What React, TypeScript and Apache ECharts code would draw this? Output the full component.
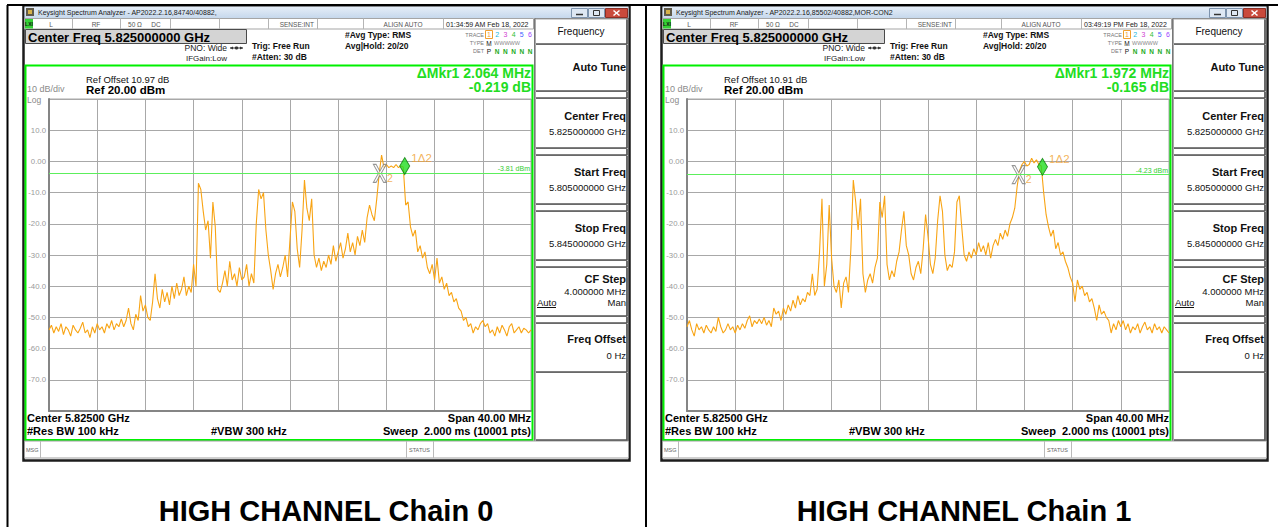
import React, { useEffect, useRef } from "react";
import * as echarts from "echarts";

// ---------- data ----------
const panelTitles = ["HIGH CHANNEL Chain 0", "HIGH CHANNEL Chain 1"];
const windowTitles = [
  "Keysight Spectrum Analyzer - AP2022.2.16,84740/40882,",
  "Keysight Spectrum Analyzer - AP2022.2.16,85502/40882,MOR-CON2",
];
const timestamps = ["01:34:59 AM Feb 18, 2022", "03:49:19 PM Feb 18, 2022"];
const refOffsets = ["Ref Offset 10.97 dB", "Ref Offset 10.91 dB"];
const deltaFreqs = ["ΔMkr1 2.064 MHz", "ΔMkr1 1.972 MHz"];
const deltaLevels = ["-0.219 dB", "-0.165 dB"];
const displayLines = [-3.81, -4.23];
const displayLineLabels = ["-3.81 dBm", "-4.23 dBm"];

// x = offset from centre frequency 5.825 GHz, in MHz (span 40 MHz)
const freqStart = -20;
const freqStep = 0.2;
const yTickLabels = ["10.0", "0.00", "-10.0", "-20.0", "-30.0", "-40.0", "-50.0", "-60.0", "-70.0"];

// marker [freq offset MHz, level dB]
const chain0Marker1 = [9.52, -1.5];
const chain0Marker2 = [7.456, -3.81];
const chain1Marker1 = [9.5, -1.75];
const chain1Marker2 = [7.528, -4.23];

const chain0Trace = [
  -54, -52.5, -55, -53, -54.5, -52, -55.5, -53, -54, -56,
  -52.5, -54, -55, -53.5, -51.5, -55, -54, -56.5, -53, -55,
  -52, -54, -53, -55, -52, -53.5, -51, -54, -52, -53,
  -50.5, -53, -51, -47, -52, -54, -49, -51, -43, -48,
  -46, -50, -51, -45, -36, -44, -47, -41, -45, -42,
  -46, -40, -44, -39, -43, -41, -37, -43, -40, -42,
  -33, -40, -7, -9, -16, -22, -19, -31, -13, -21,
  -41, -42, -39, -35, -40, -32, -38, -36, -40, -34,
  -38, -37, -33, -40, -36, -39, -20, -9, -12, -10,
  -22, -30, -35, -41, -36, -33, -37, -34, -30, -37,
  -25, -13, -16, -28, -34, -22, -6, -15, -19, -12,
  -30, -34, -31, -35, -32, -34, -30, -33, -27, -32,
  -29, -26, -31, -28, -23, -29, -26, -30, -24, -27,
  -22, -26, -18, -14, -17, -19, -12, -4, 2, -2,
  -1, -2, -1.5, -2, -1, -2, -1.5, -1.8, -14, -13,
  -21, -24, -22, -29, -27, -31, -29, -34, -36, -33,
  -38, -31, -39, -37, -41, -39, -43, -42, -45, -44,
  -47, -48, -51, -50, -53, -52, -55, -53, -54, -52,
  -51, -53, -52, -55, -54, -56, -53, -55, -52.5, -54,
  -56, -53, -52, -55, -54, -53, -55, -53.5, -54, -55,
  -54,
];

const chain1Trace = [
  -53, -51, -54, -56, -52, -54, -53, -55, -52.5, -54,
  -55, -53, -54.5, -50, -53, -55, -54, -52, -54, -53,
  -55, -52.5, -54, -52, -53.5, -51, -49.5, -53, -51, -52,
  -50.5, -52, -50, -52.5, -51, -53, -47, -49, -48, -51,
  -47, -49, -46, -48, -44.5, -47, -43, -46, -44, -45,
  -42, -43, -36, -43, -41, -29, -12, -40, -33, -14,
  -31, -40, -42, -38, -47, -39, -37, -42, -28, -6,
  -13, -22, -12, -36, -42, -38, -36, -39, -34, -31,
  -13, -18, -11, -33, -38, -35, -37, -32, -29, -22,
  -16, -27, -30, -36, -38, -34, -32, -36, -28, -17,
  -24, -33, -36, -31, -19, -11, -16, -30, -35, -33,
  -34, -29, -13, -11, -21, -30, -32, -29, -31, -28,
  -30, -26, -29, -27, -30, -26, -31, -27, -25, -27,
  -23, -25, -22, -24, -20, -18, -15, -8, -3, -1,
  0, -1.5, -1, 1, -0.5, 0.5, -1, -1.5, -10, -17,
  -21, -24, -22, -28, -26, -30, -29, -32, -34, -37,
  -39, -45, -38, -41, -40, -43, -42, -45, -44, -47,
  -51, -46, -49, -48, -50, -51, -55, -52, -54, -51,
  -53, -51, -54, -52, -55, -53, -54, -52, -55, -53,
  -51.5, -54, -53, -55, -52, -54, -53, -55, -53, -54,
  -55,
];

const traces = [chain0Trace, chain1Trace];
const markers1 = [chain0Marker1, chain1Marker1];
const markers2 = [chain0Marker2, chain1Marker2];

// ---------- drawing helpers ----------
const FONT = '"Liberation Sans", Arial, Helvetica, sans-serif';
const PANEL_DX = 638;

function txt(x: number, y: number, text: string, size: number, fill = "#000", bold = false, align = "left") {
  return {
    type: "text",
    x,
    y,
    silent: true,
    z: 20,
    style: { text, fontSize: size, fontFamily: FONT, fontWeight: bold ? "bold" : "normal", fill, align, verticalAlign: "middle" },
  };
}
function rect(x: number, y: number, w: number, h: number, fill: any, stroke?: string, lw = 1) {
  return { type: "rect", silent: true, z: 5, shape: { x, y, width: w, height: h }, style: { fill, stroke: stroke || null, lineWidth: lw } };
}
function ln(x1: number, y1: number, x2: number, y2: number, stroke: string, lw = 1) {
  return { type: "line", silent: true, z: 6, shape: { x1, y1, x2, y2 }, style: { stroke, lineWidth: lw } };
}

function panelChrome(k: number) {
  const o = k * PANEL_DX;
  const e: any[] = [];
  // screenshot frame
  e.push(rect(o + 23.5, 6, 606, 454.5, "none", "#1c1c1c", 2.5));
  // title bar
  e.push(
    rect(o + 24.5, 6.5, 604, 11.5, {
      type: "linear", x: 0, y: 0, x2: 0, y2: 1,
      colorStops: [{ offset: 0, color: "#e6eef8" }, { offset: 1, color: "#c6d8ec" }],
    })
  );
  e.push(rect(o + 26, 8, 8, 8, "#5f5a4a"), rect(o + 28, 10, 4, 4, "#d6b24a"));
  e.push(txt(o + 38, 12.5, windowTitles[k], 7, "#1a1a1a"));
  e.push(rect(o + 571.5, 8.5, 16, 9, "#dde7f3", "#7d93ad"), rect(o + 588.5, 8.5, 16, 9, "#dde7f3", "#7d93ad"), rect(o + 605.5, 8.5, 22, 9, "#c94a3c", "#8a2e25"));
  e.push(ln(o + 576, 14.5, o + 583, 14.5, "#333", 1.5));
  e.push(rect(o + 593.5, 10.5, 6, 5, "none", "#333"));
  e.push(ln(o + 613.5, 10.5, o + 619.5, 15.5, "#fff", 1.5), ln(o + 619.5, 10.5, o + 613.5, 15.5, "#fff", 1.5));
  // status row
  e.push(rect(o + 24.5, 18.5, 509, 10.5, "#fff", "#a5a5a5"));
  e.push(rect(o + 25, 19, 8, 9.5, "#35d035"), txt(o + 29, 24, "LXI", 5, "#111", true, "center"));
  [72, 120, 170, 219, 268, 317, 363, 443].forEach((x) => e.push(ln(o + x + 0.5, 18.5, o + x + 0.5, 29, "#b5b5b5")));
  e.push(
    txt(o + 51, 24, "L", 6.5, "#555", false, "center"),
    txt(o + 96, 24, "RF", 6.5, "#555", false, "center"),
    txt(o + 135, 24, "50 Ω", 6.5, "#555", false, "center"),
    txt(o + 156, 24, "DC", 6.5, "#555", false, "center"),
    txt(o + 314, 24, "SENSE:INT", 6.5, "#555", false, "right"),
    txt(o + 403, 24, "ALIGN AUTO", 6.5, "#555", false, "center"),
    txt(o + 446, 24, timestamps[k], 7, "#222")
  );
  // centre freq box & settings
  e.push(rect(o + 25.5, 29.5, 221, 14, "#d4d4d4", "#4a4a4a"));
  e.push(txt(o + 28, 37, "Center Freq 5.825000000 GHz", 13, "#000", true));
  e.push(txt(o + 227, 48, "PNO: Wide", 8.5, "#222", false, "right"));
  e.push(ln(o + 230, 48, o + 243, 48, "#333", 1));
  e.push({ type: "circle", silent: true, z: 6, shape: { cx: o + 236.5, cy: 48, r: 1.6 }, style: { fill: "#333" } });
  e.push({ type: "polygon", silent: true, z: 6, shape: { points: [[o + 230, 48], [o + 233, 46.5], [o + 233, 49.5]] }, style: { fill: "#333" } });
  e.push({ type: "polygon", silent: true, z: 6, shape: { points: [[o + 243, 48], [o + 240, 46.5], [o + 240, 49.5]] }, style: { fill: "#333" } });
  e.push(txt(o + 186, 58, "IFGain:Low", 8, "#222"));
  e.push(txt(o + 252, 46, "Trig: Free Run", 8.5, "#111", true), txt(o + 252, 57, "#Atten: 30 dB", 8.5, "#111", true));
  e.push(txt(o + 345, 35, "#Avg Type: RMS", 8.5, "#111", true), txt(o + 345, 46, "Avg|Hold: 20/20", 8.5, "#111", true));
  // trace block
  e.push(txt(o + 484, 34.5, "TRACE", 5.5, "#777", false, "right"), txt(o + 484, 43, "TYPE", 5.5, "#777", false, "right"), txt(o + 484, 51, "DET", 5.5, "#777", false, "right"));
  e.push(rect(o + 485.5, 30.5, 7, 8, "none", "#f0a030"));
  const tcols = ["#f0a030", "#20b8e0", "#d040d0", "#30c030", "#4060ff", "#a040ff"];
  tcols.forEach((c, i) => e.push(txt(o + 489 + i * 8.2, 34.5, String(i + 1), 7, c, false, "center")));
  e.push(txt(o + 489, 43, "M", 6.5, "#111", false, "center"), txt(o + 494, 43, "WWWWW", 5.5, "#888"));
  e.push(txt(o + 489, 51, "P", 6.5, "#111", false, "center"));
  [1, 2, 3, 4, 5].forEach((i) => e.push(txt(o + 489 + i * 8.2, 51, "N", 6.5, "#22aa22", true, "center")));
  // green measurement frame
  e.push(rect(o + 25.5, 65.5, 507, 374.5, "none", "#00f000", 2));
  e.push(txt(o + 86, 79, refOffsets[k], 9.5, "#111"));
  e.push(txt(o + 86, 90, "Ref 20.00 dBm", 11.5, "#000", true));
  e.push(txt(o + 27, 89, "10 dB/div", 9, "#8a8a8a"), txt(o + 27, 99.5, "Log", 8.5, "#8a8a8a"));
  e.push(txt(o + 531, 73, deltaFreqs[k], 14, "#22dd22", true, "right"), txt(o + 531, 87, deltaLevels[k], 14, "#22dd22", true, "right"));
  e.push(txt(o + 27, 418, "Center 5.82500 GHz", 11, "#000", true), txt(o + 531, 418, "Span 40.00 MHz", 11, "#000", true, "right"));
  e.push(txt(o + 27, 431, "#Res BW 100 kHz", 11, "#000", true), txt(o + 211, 431, "#VBW 300 kHz", 11, "#000", true));
  e.push(txt(o + 531, 431, "Sweep  2.000 ms (10001 pts)", 11, "#000", true, "right"));
  // message row
  e.push(rect(o + 24.5, 441, 604, 17, "#fff", "#a0a0a0"));
  e.push(txt(o + 26, 449.5, "MSG", 5.5, "#666"), ln(o + 40.5, 441, o + 40.5, 458, "#bbb"));
  e.push(ln(o + 406.5, 441, o + 406.5, 458, "#bbb"), txt(o + 409, 449.5, "STATUS", 5.5, "#666"), ln(o + 433.5, 441, o + 433.5, 458, "#bbb"));
  // soft-key menu
  e.push(rect(o + 534.5, 18.5, 93.5, 422, "#fff", "#777"));
  const boxes = [[18.5, 44], [44, 91], [91, 98], [98, 148], [148, 155], [155, 204], [204, 211], [211, 260], [260, 267], [267, 316], [316, 323], [323, 372], [372, 440]];
  boxes.forEach(([a, b]) => {
    e.push(rect(o + 535.5, a + 0.5, 91, b - a, "#fff", "#a8a8a8"));
    e.push(ln(o + 536, b, o + 627, b, "#555", 1.5), ln(o + 627, a + 1, o + 627, b, "#555", 1.5));
  });
  e.push(txt(o + 581, 31, "Frequency", 10, "#111", false, "center"));
  e.push(txt(o + 626, 67, "Auto Tune", 11, "#111", true, "right"));
  e.push(txt(o + 626, 116, "Center Freq", 11, "#111", true, "right"), txt(o + 626, 131, "5.825000000 GHz", 9.5, "#111", false, "right"));
  e.push(txt(o + 626, 172, "Start Freq", 11, "#111", true, "right"), txt(o + 626, 187, "5.805000000 GHz", 9.5, "#111", false, "right"));
  e.push(txt(o + 626, 228, "Stop Freq", 11, "#111", true, "right"), txt(o + 626, 243, "5.845000000 GHz", 9.5, "#111", false, "right"));
  e.push(txt(o + 626, 279, "CF Step", 11, "#111", true, "right"), txt(o + 626, 291, "4.000000 MHz", 9.5, "#111", false, "right"));
  e.push(txt(o + 537, 302, "Auto", 9.5, "#111"), ln(o + 537, 307.5, o + 556, 307.5, "#111", 1), txt(o + 626, 302, "Man", 9.5, "#111", false, "right"));
  e.push(txt(o + 626, 339, "Freq Offset", 11, "#111", true, "right"), txt(o + 626, 355, "0 Hz", 9.5, "#111", false, "right"));
  // caption
  e.push(txt(o + 326, 511, panelTitles[k], 29, "#000", true, "center"));
  return e;
}

function buildOption() {
  const graphics: any[] = [
    ln(7, 5, 1278, 5, "#000", 2),
    ln(7.5, 5, 7.5, 527, "#000", 2),
    ln(646, 5, 646, 527, "#000", 2),
    ...panelChrome(0),
    ...panelChrome(1),
  ];
  const grids: any[] = [];
  const xAxes: any[] = [];
  const yAxes: any[] = [];
  const series: any[] = [];
  [0, 1].forEach((k) => {
    grids.push({ left: 49 + k * PANEL_DX, top: 99, width: 482, height: 312, show: true, borderColor: "#a9a9a9", borderWidth: 1, backgroundColor: "transparent" });
    xAxes.push({
      gridIndex: k, type: "value", min: -20, max: 20, interval: 4,
      axisLabel: { show: false }, axisTick: { show: false },
      axisLine: { show: true, onZero: false, lineStyle: { color: "#858585", width: 2 } },
      splitLine: { show: true, lineStyle: { color: "#a8a8a8", width: 1 } },
    });
    yAxes.push({
      gridIndex: k, type: "value", min: -80, max: 20, interval: 10,
      axisLabel: {
        color: "#9a9a9a", fontSize: 7.8, fontFamily: FONT, margin: 3,
        formatter: (v: number) => {
          const i = Math.round((10 - v) / 10);
          return i >= 0 && i < yTickLabels.length ? yTickLabels[i] : "";
        },
      },
      axisTick: { show: false },
      axisLine: { show: true, onZero: false, lineStyle: { color: "#858585", width: 2 } },
      splitLine: { show: true, lineStyle: { color: "#a8a8a8", width: 1 } },
    });
    series.push({
      type: "line", xAxisIndex: k, yAxisIndex: k, z: 3,
      data: traces[k].map((v, i) => [freqStart + i * freqStep, v]),
      showSymbol: false, symbol: "none",
      lineStyle: { color: "#f8a414", width: 1.1 }, itemStyle: { color: "#f8a414" },
      markLine: {
        silent: true, symbol: ["none", "none"], animation: false,
        lineStyle: { color: "#5cef5c", width: 1, type: "solid" },
        label: { show: true, position: "insideEndTop", formatter: displayLineLabels[k], color: "#33cc33", fontSize: 7, distance: 1, fontFamily: FONT },
        data: [{ yAxis: displayLines[k] }],
      },
    });
    series.push({
      type: "scatter", xAxisIndex: k, yAxisIndex: k, z: 4,
      data: [markers2[k]],
      symbol: "path://M0,0 L3,0 L7,7 L11,0 L14,0 L8.5,9 L14,18 L11,18 L7,11 L3,18 L0,18 L5.5,9 Z",
      symbolSize: [13, 18],
      itemStyle: { color: "rgba(255,255,255,0.7)", borderColor: "#7a7a7a", borderWidth: 1 },
      label: { show: true, formatter: "2", position: [14, 14], align: "left", verticalAlign: "middle", color: "#f0a030", fontSize: 10.5, fontFamily: FONT },
    });
    series.push({
      type: "scatter", xAxisIndex: k, yAxisIndex: k, z: 5,
      data: [markers1[k]],
      symbol: "diamond", symbolSize: [10, 17],
      itemStyle: { color: "#22dd22", borderColor: "#0a7a0a", borderWidth: 1 },
      label: { show: true, formatter: "1Δ2", position: [12, 1], align: "left", verticalAlign: "middle", color: "#f0a030", fontSize: 11.5, fontFamily: FONT },
    });
  });
  return {
    animation: false,
    backgroundColor: "#fff",
    textStyle: { fontFamily: FONT },
    grid: grids,
    xAxis: xAxes,
    yAxis: yAxes,
    series,
    graphic: { elements: graphics },
  };
}

export default function App() {
  const ref = useRef<HTMLDivElement>(null);
  useEffect(() => {
    if (!ref.current) return;
    const chart = echarts.init(ref.current, null, { renderer: "svg" });
    chart.setOption(buildOption() as any);
    return () => chart.dispose();
  }, []);
  return <div ref={ref} style={{ position: "absolute", left: 0, top: 0, width: 1278, height: 527, background: "#fff" }} />;
}
